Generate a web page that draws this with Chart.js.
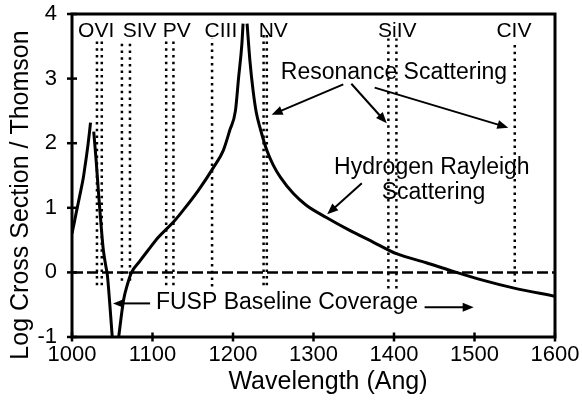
<!DOCTYPE html>
<html>
<head>
<meta charset="utf-8">
<script src="https://cdn.jsdelivr.net/npm/chart.js@4"></script>
<style>
  body { margin: 0; background: #fff; }
  canvas { display: block; }
</style>
</head>
<body>
<canvas id="myChart" width="582" height="405"></canvas>
<script>
// curve, split where it runs off the axes
const waveA = [1000, 1003, 1005, 1008, 1011, 1014, 1016, 1018, 1020, 1022, 1023];
const logA = [0.6, 0.78, 0.91, 1.09, 1.27, 1.46, 1.63, 1.8, 1.99, 2.2, 2.32];
const waveB = [1027, 1030, 1033, 1036, 1039, 1042, 1044, 1047, 1050];
const logB = [2.18, 1.73, 1.22, 0.75, 0.34, 0.1, -0.05, -0.5, -1.0];
const waveC = [1058, 1061, 1064, 1069, 1074, 1084, 1095, 1107, 1126, 1138, 1157, 1176, 1188, 1196, 1203, 1207, 1211, 1212.5];
const logC = [-1.0, -0.7, -0.43, -0.18, 0, 0.17, 0.35, 0.54, 0.78, 0.96, 1.27, 1.63, 1.89, 2.2, 2.5, 3.02, 3.53, 3.85];
const waveD = [1217.5, 1221, 1225, 1229, 1234, 1242, 1250, 1259, 1275, 1291, 1316, 1345, 1374, 1403, 1440, 1470, 1510, 1548, 1600];
const logD = [3.85, 3.28, 2.81, 2.47, 2.22, 1.89, 1.66, 1.47, 1.22, 1.04, 0.85, 0.65, 0.47, 0.29, 0.15, 0.03, -0.12, -0.24, -0.37];

// ion lines
const ionNames = ['OVI', 'SIV', 'PV', 'CIII', 'NV', 'SiIV', 'CIV'];
const ionLabelWave = [1030, 1084, 1130, 1185, 1250, 1404, 1549];
const ionLineWave = [[1031, 1037], [1062, 1072], [1117, 1126], [1174], [1238, 1242], [1393, 1403], [1550]];
const ionLineTop = [3.6, 3.55, 3.6, 3.62, 3.72, 3.62, 3.55];
const ionLineBottom = [-0.2, -0.13, -0.2, -0.22, -0.2, -0.25, -0.15];

const xTicks = [1000, 1100, 1200, 1300, 1400, 1500, 1600];
const yTicks = [-1, 0, 1, 2, 3, 4];

// text notes and arrows, in data units
const notes = [
    { text: 'Resonance Scattering', x: 1400, y: 3.09 },
    { text: 'Hydrogen Rayleigh', x: 1447, y: 1.62 },
    { text: 'Scattering', x: 1449, y: 1.24 },
    { text: 'FUSP Baseline Coverage', x: 1267, y: -0.47 }
];
const arrows = [
    [1337, 2.91, 1248, 2.44],
    [1347, 2.92, 1391, 2.31],
    [1376, 2.86, 1542, 2.24],
    [1360, 1.38, 1317, 0.9],
    [1097, -0.48, 1051, -0.48],
    [1438, -0.54, 1499, -0.54]
];

const FONT = '"Liberation Sans", Arial, sans-serif';

function pts(xs, ys) {
    return xs.map((x, i) => ({ x: x, y: ys[i] }));
}

function curve(xs, ys) {
    return {
        data: pts(xs, ys),
        showLine: true,
        borderColor: '#000',
        borderWidth: 3,
        pointRadius: 0,
        cubicInterpolationMode: 'monotone'
    };
}

let datasets = [];
// dotted ion lines
for (let i = 0; i < ionLineWave.length; i++) {
    ionLineWave[i].forEach(w => {
        datasets.push({
            data: [{ x: w, y: ionLineBottom[i] }, { x: w, y: ionLineTop[i] }],
            showLine: true,
            borderColor: '#000',
            borderWidth: 2.5,
            borderDash: [2.5, 4.2],
            pointRadius: 0
        });
    });
}
// zero line
datasets.push({
    data: [{ x: xTicks[0], y: 0 }, { x: xTicks[xTicks.length - 1], y: 0 }],
    showLine: true,
    borderColor: '#000',
    borderWidth: 2.5,
    borderDash: [11, 4],
    pointRadius: 0
});
datasets.push(curve(waveA, logA));
datasets.push(curve(waveB, logB));
datasets.push(curve(waveC, logC));
datasets.push(curve(waveD, logD));

function arrowHead(ctx, x1, y1, x2, y2) {
    let a = Math.atan2(y2 - y1, x2 - x1);
    let len = 11, w = 4.5;
    ctx.beginPath();
    ctx.moveTo(x2, y2);
    ctx.lineTo(x2 - len * Math.cos(a) + w * Math.sin(a), y2 - len * Math.sin(a) - w * Math.cos(a));
    ctx.lineTo(x2 - len * Math.cos(a) - w * Math.sin(a), y2 - len * Math.sin(a) + w * Math.cos(a));
    ctx.closePath();
    ctx.fill();
}

const decorations = {
    id: 'decorations',
    afterDatasetsDraw(chart) {
        const ctx = chart.ctx;
        const xs = chart.scales.x, ys = chart.scales.y;
        const a = chart.chartArea;
        ctx.save();
        ctx.strokeStyle = '#000';
        ctx.fillStyle = '#000';
        ctx.lineWidth = 3;
        ctx.setLineDash([]);
        ctx.strokeRect(a.left, a.top, a.right - a.left, a.bottom - a.top);

        // tick marks crossing the axes
        ctx.lineWidth = 2.5;
        xTicks.forEach(t => {
            let px = xs.getPixelForValue(t);
            ctx.beginPath();
            ctx.moveTo(px, a.bottom - 4.5);
            ctx.lineTo(px, a.bottom + 4.5);
            ctx.stroke();
        });
        yTicks.forEach(t => {
            let py = ys.getPixelForValue(t);
            ctx.beginPath();
            ctx.moveTo(a.left - 5, py);
            ctx.lineTo(a.left + 5, py);
            ctx.stroke();
        });

        // ion labels
        ctx.font = '21px ' + FONT;
        ctx.textAlign = 'center';
        ctx.textBaseline = 'alphabetic';
        ionNames.forEach((n, i) => {
            ctx.fillText(n, xs.getPixelForValue(ionLabelWave[i]), ys.getPixelForValue(3.65));
        });

        // notes
        ctx.font = '23px ' + FONT;
        ctx.textBaseline = 'middle';
        notes.forEach(n => {
            ctx.fillText(n.text, xs.getPixelForValue(n.x), ys.getPixelForValue(n.y));
        });

        // arrows
        ctx.lineWidth = 2;
        arrows.forEach(r => {
            let x1 = xs.getPixelForValue(r[0]), y1 = ys.getPixelForValue(r[1]);
            let x2 = xs.getPixelForValue(r[2]), y2 = ys.getPixelForValue(r[3]);
            let ang = Math.atan2(y2 - y1, x2 - x1);
            ctx.beginPath();
            ctx.moveTo(x1, y1);
            ctx.lineTo(x2 - 8 * Math.cos(ang), y2 - 8 * Math.sin(ang));
            ctx.stroke();
            arrowHead(ctx, x1, y1, x2, y2);
        });

        // axis titles
        ctx.font = '25px ' + FONT;
        ctx.textAlign = 'center';
        ctx.textBaseline = 'middle';
        ctx.fillText('Wavelength (Ang)', 328, 382);
        ctx.translate(21, 195);
        ctx.rotate(-Math.PI / 2);
        ctx.fillText('Log Cross Section / Thomson', 0, 0);
        ctx.restore();
    }
};

let ctx = document.getElementById('myChart').getContext('2d');
let myChart = new Chart(ctx, {
    type: 'scatter',
    data: { datasets: datasets },
    plugins: [decorations],
    options: {
        responsive: false,
        animation: false,
        layout: { padding: { left: 0, top: 14, right: 27, bottom: 0 } },
        plugins: {
            legend: { display: false },
            tooltip: { enabled: false }
        },
        scales: {
            x: {
                type: 'linear',
                min: 1000,
                max: 1600,
                afterFit: (s) => { s.height = 68; s.paddingLeft = 0; s.paddingRight = 0; },
                grid: { display: false, drawTicks: false },
                border: { display: false },
                ticks: {
                    stepSize: 100,
                    padding: 5,
                    color: '#000',
                    font: { family: FONT, size: 22 },
                    maxRotation: 0,
                    callback: (v) => String(v)
                }
            },
            y: {
                min: -1,
                max: 4,
                afterFit: (s) => { s.width = 72; s.paddingTop = 0; s.paddingBottom = 0; },
                grid: { display: false, drawTicks: false },
                border: { display: false },
                ticks: {
                    stepSize: 1,
                    padding: 15,
                    color: '#000',
                    font: { family: FONT, size: 22 }
                }
            }
        }
    }
});
</script>
</body>
</html>
